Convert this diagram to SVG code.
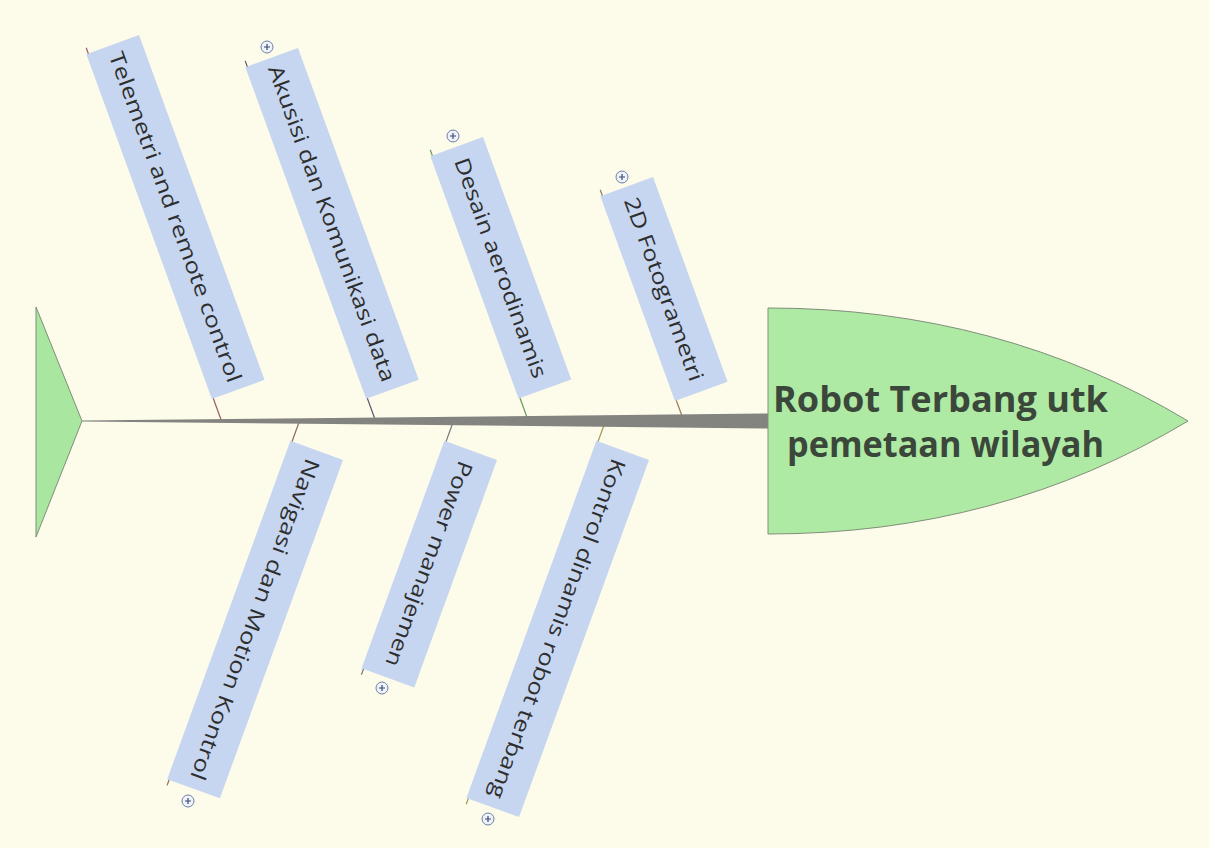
<svg xmlns="http://www.w3.org/2000/svg" width="1209" height="848" viewBox="0 0 1209 848">
<style>
.box{fill:#c6d6f0;stroke:none}
.lbl{font-family:"Open Sans","Liberation Sans",sans-serif;font-size:21px;fill:#2e2e2e;text-anchor:middle}
.head{font-family:"Open Sans","Liberation Sans",sans-serif;font-size:36px;font-weight:bold;fill:#3b473a}
.con{stroke-width:1.2;fill:none}
.plus circle{fill:#eef2fa;stroke:#6e7fa6;stroke-width:1}
.plus path{stroke:#3c4a70;stroke-width:1.2}
</style>
<rect width="1209" height="848" fill="#fdfbea"/>
<g id="connectors">
<line class="con" x1="221.5" y1="421" x2="86.2" y2="47.8" stroke="#9a5e5e"/>
<line class="con" x1="375.6" y1="421" x2="245.2" y2="60.9" stroke="#5a5670"/>
<line class="con" x1="528.3" y1="421" x2="430.2" y2="149.8" stroke="#6f9a58"/>
<line class="con" x1="683.8" y1="421" x2="600.2" y2="189.8" stroke="#9a7a5a"/>
<line class="con" x1="299.5" y1="421" x2="167.1" y2="785.4" stroke="#8a6a5a"/>
<line class="con" x1="453.5" y1="421" x2="361.4" y2="674.7" stroke="#7a7a80"/>
<line class="con" x1="605.5" y1="421" x2="466.2" y2="804.3" stroke="#a09a50"/>
<polygon points="82,420.5 768,413.5 768,428.5 82,421.5" fill="#838380"/>
</g>
<g id="tail">
<polygon points="36,307 36,537 82,421" fill="#a9e6a0" stroke="#7f8f7a" stroke-width="1"/>
</g>
<g id="head">
<path d="M768,308 Q1000,308 1188,421 Q1000,534 768,534 Z" fill="#aeeaa3" stroke="#7f8f7a" stroke-width="1"/>
<text class="head" x="773" y="412" textLength="335" lengthAdjust="spacingAndGlyphs">Robot Terbang utk</text>
<text class="head" x="787" y="457" textLength="317" lengthAdjust="spacingAndGlyphs">pemetaan wilayah</text>
</g>
<g id="telemetri" transform="translate(139,35) rotate(70)">
<rect class="box" width="367" height="56"/>
<text class="lbl" x="183.5" y="35.5" textLength="350" lengthAdjust="spacingAndGlyphs">Telemetri and remote control</text>
</g>
<g id="akusisi" transform="translate(298,48) rotate(70)">
<rect class="box" width="353" height="56"/>
<text class="lbl" x="176.5" y="35.5" textLength="335" lengthAdjust="spacingAndGlyphs">Akusisi dan Komunikasi data</text>
</g>
<g id="desain" transform="translate(483,137) rotate(70)">
<rect class="box" width="258" height="56"/>
<text class="lbl" x="129" y="35.5" textLength="233" lengthAdjust="spacingAndGlyphs">Desain aerodinamis</text>
</g>
<g id="fotogrametri" transform="translate(653,177) rotate(70)">
<rect class="box" width="218" height="56"/>
<text class="lbl" x="109" y="35.5" textLength="194" lengthAdjust="spacingAndGlyphs">2D Fotogrametri</text>
</g>
<g id="navigasi" transform="translate(343,460) rotate(110)">
<rect class="box" width="360" height="56"/>
<text class="lbl" x="180" y="35.5" textLength="340" lengthAdjust="spacingAndGlyphs">Navigasi dan Motion Kontrol</text>
</g>
<g id="power" transform="translate(497,460) rotate(110)">
<rect class="box" width="242" height="56"/>
<text class="lbl" x="121" y="35.5" textLength="217" lengthAdjust="spacingAndGlyphs">Power manajemen</text>
</g>
<g id="kontrol" transform="translate(649,460) rotate(110)">
<rect class="box" width="380" height="56"/>
<text class="lbl" x="190" y="35.5" textLength="360" lengthAdjust="spacingAndGlyphs">Kontrol dinamis robot terbang</text>
</g>
<g id="plus-icons">
<g class="plus" transform="translate(267,47)"><circle r="6"/><path d="M-3,0H3M0,-3V3"/></g>
<g class="plus" transform="translate(453,136)"><circle r="6"/><path d="M-3,0H3M0,-3V3"/></g>
<g class="plus" transform="translate(622,177)"><circle r="6"/><path d="M-3,0H3M0,-3V3"/></g>
<g class="plus" transform="translate(188,801)"><circle r="6"/><path d="M-3,0H3M0,-3V3"/></g>
<g class="plus" transform="translate(382,688)"><circle r="6"/><path d="M-3,0H3M0,-3V3"/></g>
<g class="plus" transform="translate(488,819)"><circle r="6"/><path d="M-3,0H3M0,-3V3"/></g>
</g>
</svg>
